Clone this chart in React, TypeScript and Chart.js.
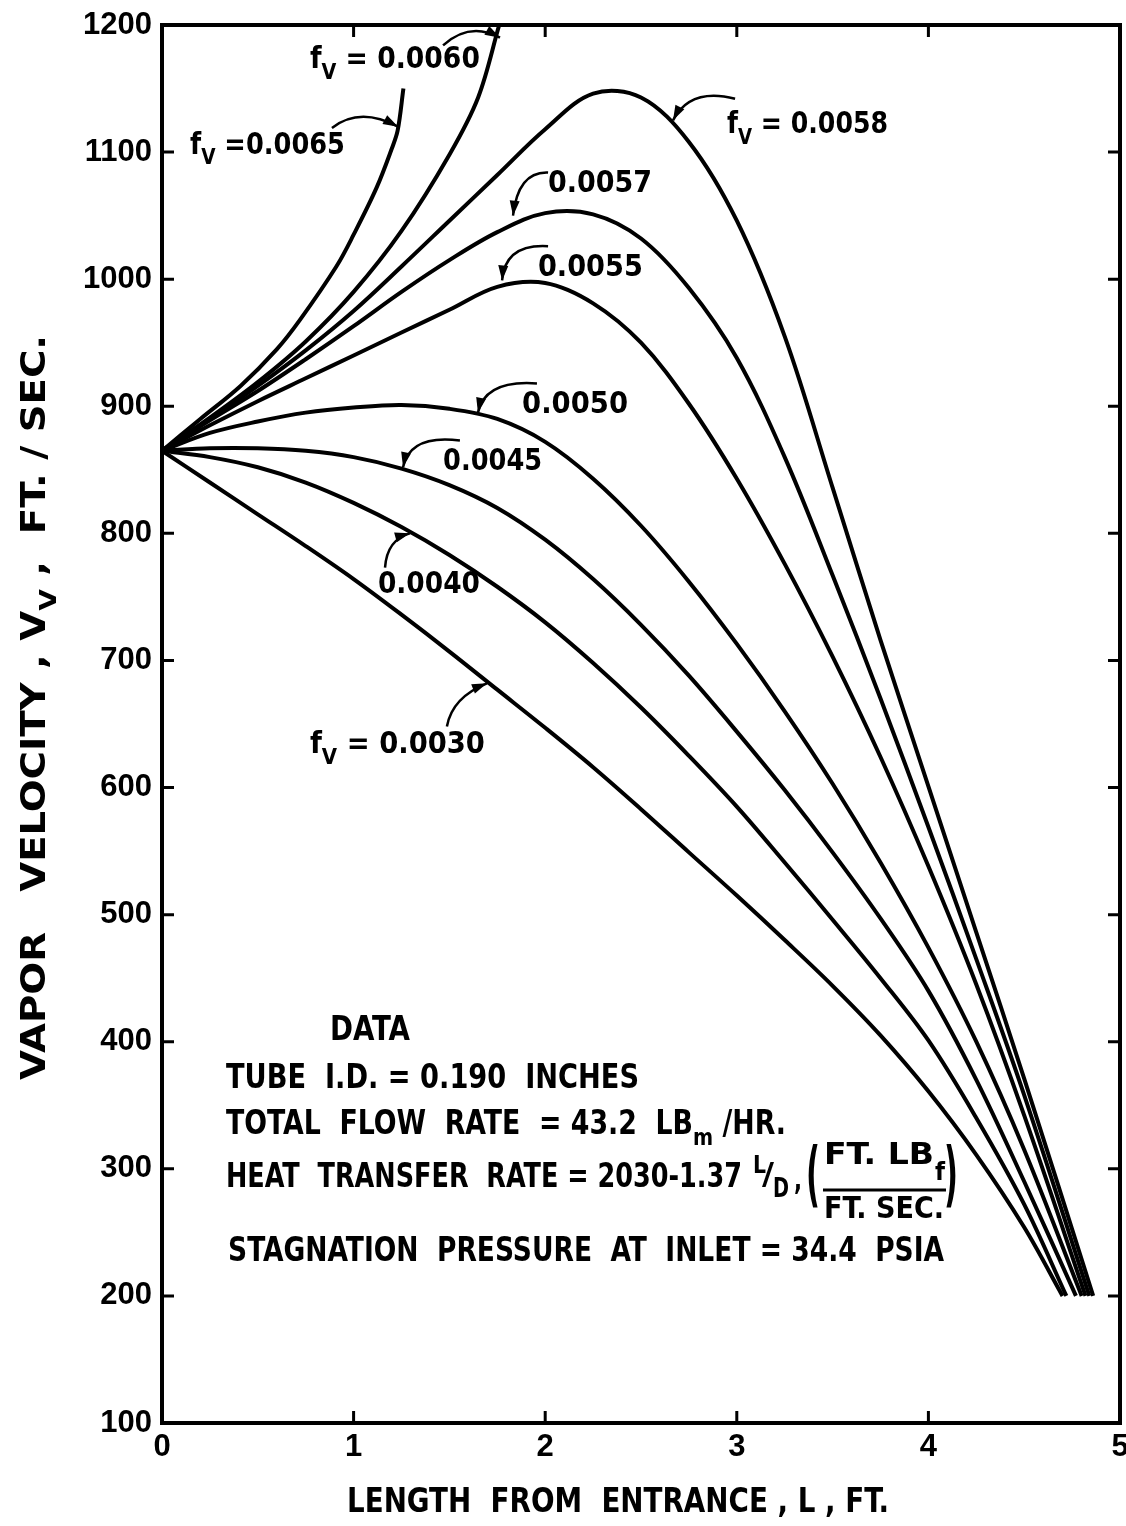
import React, { useEffect, useRef } from "react";
import { Chart, registerables } from "chart.js";

Chart.register(...registerables);

// ---------- data (length L in ft, vapor velocity in ft/sec) ----------
const L_0030 = [0, 0.25, 0.5, 0.75, 1.0, 1.25, 1.5, 1.75, 2.0, 2.25, 2.5, 2.75, 3.0, 3.25, 3.5, 3.75, 4.0, 4.25, 4.5, 4.7];
const V_0030 = [865, 840, 815, 790, 764, 736, 707, 677, 647, 616, 583, 549, 515, 480, 444, 405, 361, 311, 254, 200];

const L_0040 = [0, 0.25, 0.5, 0.75, 1.0, 1.25, 1.5, 1.75, 2.0, 2.25, 2.5, 2.75, 3.0, 3.25, 3.5, 3.75, 4.0, 4.25, 4.5, 4.72];
const V_0040 = [865, 860, 852, 840, 824, 805, 783, 758, 730, 698, 663, 625, 585, 541, 496, 450, 401, 340, 272, 200];

const L_0045 = [0, 0.25, 0.5, 0.75, 1.0, 1.25, 1.5, 1.75, 2.0, 2.25, 2.5, 2.75, 3.0, 3.25, 3.5, 3.75, 4.0, 4.25, 4.5, 4.77];
const V_0045 = [865, 867, 867, 865, 860, 851, 838, 820, 795, 764, 728, 688, 644, 598, 549, 497, 440, 370, 290, 200];

const L_0050 = [0, 0.25, 0.5, 0.75, 1.0, 1.25, 1.5, 1.75, 2.0, 2.25, 2.5, 2.75, 3.0, 3.25, 3.5, 3.75, 4.0, 4.25, 4.5, 4.8];
const V_0050 = [865, 879, 888, 895, 899, 901, 898, 890, 872, 843, 806, 762, 713, 660, 603, 541, 474, 400, 315, 200];

const L_0055 = [0, 0.25, 0.5, 0.75, 1.0, 1.25, 1.5, 1.75, 2.0, 2.25, 2.5, 2.75, 3.0, 3.25, 3.5, 3.75, 4.0, 4.25, 4.5, 4.82];
const V_0055 = [865, 885, 904, 922, 940, 958, 976, 994, 997, 981, 950, 902, 843, 776, 703, 624, 538, 445, 342, 200];

const L_0057 = [0, 0.25, 0.5, 0.75, 1.0, 1.25, 1.5, 1.75, 2.0, 2.25, 2.5, 2.75, 3.0, 3.25, 3.5, 3.75, 4.0, 4.25, 4.5, 4.84];
const V_0057 = [865, 889, 912, 937, 963, 990, 1015, 1037, 1052, 1051, 1032, 993, 938, 860, 767, 670, 569, 465, 358, 200];

const L_0058 = [0, 0.25, 0.5, 0.75, 1.0, 1.25, 1.5, 1.75, 2.0, 2.25, 2.5, 2.75, 3.0, 3.25, 3.5, 3.75, 4.0, 4.25, 4.5, 4.86];
const V_0058 = [865, 890, 916, 944, 975, 1010, 1046, 1082, 1118, 1146, 1143, 1108, 1046, 955, 836, 716, 601, 486, 371, 200];

const L_0060 = [0, 0.25, 0.5, 0.75, 1.0, 1.25, 1.5, 1.65, 1.76];
const V_0060 = [865, 891, 919, 951, 990, 1038, 1098, 1143, 1200];

const L_0065 = [0, 0.2, 0.41, 0.6, 0.72, 0.91, 1.0, 1.12, 1.2, 1.23, 1.26];
const V_0065 = [865, 890, 916, 945, 968, 1010, 1035, 1072, 1103, 1117, 1150];

const FRICTION = ["0.0030", "0.0040", "0.0045", "0.0050", "0.0055", "0.0057", "0.0058", "0.0060", "0.0065"];
const LENGTHS = [L_0030, L_0040, L_0045, L_0050, L_0055, L_0057, L_0058, L_0060, L_0065];
const VELOCITIES = [V_0030, V_0040, V_0045, V_0050, V_0055, V_0057, V_0058, V_0060, V_0065];

const X_MIN = 0, X_MAX = 5, X_STEP = 1;
const Y_MIN = 100, Y_MAX = 1200, Y_STEP = 100;

// ---------- text / annotation layout ----------
const FONT = '"DejaVu Sans Condensed", "DejaVu Sans", sans-serif';
const TICK_FONT = '"Liberation Sans", Arial, sans-serif';

type Seg = { t: string; sub?: boolean; sup?: boolean };

// curve labels: segments, anchor (data units, left / middle), width px
const CURVE_LABELS: { segs: Seg[]; x: number; y: number; w: number; size: number }[] = [
  { segs: [{ t: "f" }, { t: "V", sub: true }, { t: " = 0.0060" }], x: 0.772, y: 1172, w: 170, size: 30 },
  { segs: [{ t: "f" }, { t: "V", sub: true }, { t: " =0.0065" }], x: 0.146, y: 1105, w: 155, size: 30 },
  { segs: [{ t: "f" }, { t: "V", sub: true }, { t: " = 0.0058" }], x: 2.949, y: 1121, w: 161, size: 30 },
  { segs: [{ t: "0.0057" }], x: 2.015, y: 1075, w: 104, size: 30 },
  { segs: [{ t: "0.0055" }], x: 1.962, y: 1009, w: 105, size: 30 },
  { segs: [{ t: "0.0050" }], x: 1.879, y: 901, w: 106, size: 30 },
  { segs: [{ t: "0.0045" }], x: 1.467, y: 856, w: 99, size: 30 },
  { segs: [{ t: "0.0040" }], x: 1.127, y: 759, w: 102, size: 30 },
  { segs: [{ t: "f" }, { t: "V", sub: true }, { t: " = 0.0030" }], x: 0.772, y: 633, w: 175, size: 30 },
];

// curved leader arrows: tail, control, head (data units)
const ARROWS: number[][] = [
  [1.467, 1184, 1.607, 1203, 1.764, 1190],
  [0.887, 1119, 1.033, 1136, 1.232, 1120],
  [2.991, 1142, 2.756, 1151, 2.667, 1125],
  [2.015, 1084, 1.858, 1085, 1.832, 1050],
  [2.015, 1026, 1.79, 1028, 1.775, 999],
  [1.957, 918, 1.686, 921, 1.649, 895],
  [1.555, 873, 1.294, 878, 1.258, 852],
  [1.164, 773, 1.174, 795, 1.294, 800],
  [1.487, 648, 1.514, 671, 1.696, 682],
];

const DATA_LINES: { segs: Seg[]; x: number; y: number; w: number }[] = [
  { segs: [{ t: "DATA" }], x: 0.877, y: 408, w: 80 },
  { segs: [{ t: "TUBE  I.D. = 0.190  INCHES" }], x: 0.334, y: 370, w: 413 },
  { segs: [{ t: "TOTAL  FLOW  RATE  = 43.2  LB" }, { t: "m", sub: true }, { t: " /HR." }], x: 0.334, y: 334.5, w: 560 },
  { segs: [{ t: "STAGNATION  PRESSURE  AT  INLET = 34.4  PSIA" }], x: 0.345, y: 234.5, w: 716 },
];
const HEAT_LINE = { text: "HEAT  TRANSFER  RATE = 2030-1.37", x: 0.334, y: 292.8, w: 516 };

const X_TITLE = "LENGTH  FROM  ENTRANCE , L , FT.";
const Y_TITLE: Seg[] = [{ t: "VAPOR   VELOCITY , V" }, { t: "V", sub: true }, { t: " ,  FT. / SEC." }];

function drawRich(ctx: CanvasRenderingContext2D, segs: Seg[], x: number, y: number, size: number, targetW: number | null, align: "left" | "center" = "left") {
  let w = 0;
  const widths: number[] = [];
  for (const s of segs) {
    const sz = s.sub || s.sup ? size * 0.72 : size;
    ctx.font = `bold ${sz}px ${FONT}`;
    const m = ctx.measureText(s.t).width;
    widths.push(m);
    w += m;
  }
  const sx = targetW ? targetW / w : 1;
  const realW = w * sx;
  ctx.save();
  ctx.translate(align === "center" ? x - realW / 2 : x, y);
  ctx.scale(sx, 1);
  ctx.textBaseline = "middle";
  ctx.textAlign = "left";
  let cx = 0;
  segs.forEach((s, i) => {
    const sz = s.sub || s.sup ? size * 0.72 : size;
    ctx.font = `bold ${sz}px ${FONT}`;
    const dy = s.sub ? size * 0.42 : s.sup ? -size * 0.3 : 0;
    ctx.fillText(s.t, cx, dy);
    cx += widths[i];
  });
  ctx.restore();
}

function drawArrow(ctx: CanvasRenderingContext2D, x0: number, y0: number, cx: number, cy: number, x1: number, y1: number) {
  ctx.save();
  ctx.strokeStyle = "#000";
  ctx.fillStyle = "#000";
  ctx.lineWidth = 2.5;
  ctx.beginPath();
  ctx.moveTo(x0, y0);
  ctx.quadraticCurveTo(cx, cy, x1, y1);
  ctx.stroke();
  const ang = Math.atan2(y1 - cy, x1 - cx);
  const len = 15, half = 5;
  ctx.beginPath();
  ctx.moveTo(x1, y1);
  ctx.lineTo(x1 - len * Math.cos(ang) + half * Math.sin(ang), y1 - len * Math.sin(ang) - half * Math.cos(ang));
  ctx.lineTo(x1 - len * Math.cos(ang) - half * Math.sin(ang), y1 - len * Math.sin(ang) + half * Math.cos(ang));
  ctx.closePath();
  ctx.fill();
  ctx.restore();
}

const decorPlugin = {
  id: "decor",
  afterDraw(chart: any) {
    const ctx: CanvasRenderingContext2D = chart.ctx;
    const xs = chart.scales.x;
    const ys = chart.scales.y;
    const { left, right, top, bottom } = chart.chartArea;
    const px = (v: number) => xs.getPixelForValue(v);
    const py = (v: number) => ys.getPixelForValue(v);
    ctx.save();
    ctx.fillStyle = "#000";
    ctx.strokeStyle = "#000";

    // frame
    ctx.lineWidth = 4;
    ctx.strokeRect(left, top, right - left, bottom - top);

    // inward ticks
    ctx.lineWidth = 3;
    const tl = 12;
    for (let v = Y_MIN + Y_STEP; v < Y_MAX; v += Y_STEP) {
      const y = py(v);
      ctx.beginPath();
      ctx.moveTo(left, y); ctx.lineTo(left + tl, y);
      ctx.moveTo(right, y); ctx.lineTo(right - tl, y);
      ctx.stroke();
    }
    for (let v = X_MIN + X_STEP; v < X_MAX; v += X_STEP) {
      const x = px(v);
      ctx.beginPath();
      ctx.moveTo(x, bottom); ctx.lineTo(x, bottom - tl);
      ctx.moveTo(x, top); ctx.lineTo(x, top + tl);
      ctx.stroke();
    }

    // curve labels and leader arrows
    CURVE_LABELS.forEach((l) => drawRich(ctx, l.segs, px(l.x), py(l.y), l.size, l.w));
    ARROWS.forEach((a) => drawArrow(ctx, px(a[0]), py(a[1]), px(a[2]), py(a[3]), px(a[4]), py(a[5])));

    // data block
    DATA_LINES.forEach((l) => drawRich(ctx, l.segs, px(l.x), py(l.y), 33, l.w));
    const hx = px(HEAT_LINE.x), hy = py(HEAT_LINE.y);
    drawRich(ctx, [{ t: HEAT_LINE.text }], hx, hy, 33, HEAT_LINE.w);
    drawRich(ctx, [{ t: "L" }], hx + 527, hy - 11, 24, 13);
    drawRich(ctx, [{ t: "/" }], hx + 536, hy - 2, 30, 12);
    drawRich(ctx, [{ t: "D" }], hx + 547, hy + 12, 26, 16);
    drawRich(ctx, [{ t: "," }], hx + 568, hy + 4, 30, 8);
    drawRich(ctx, [{ t: "(" }], hx + 580, hy + 1, 72, 14);
    drawRich(ctx, [{ t: "FT. LB" }], hx + 598, hy - 22, 30, 110);
    drawRich(ctx, [{ t: "f" }], hx + 709, hy - 4, 24, 10);
    ctx.lineWidth = 3;
    ctx.beginPath();
    ctx.moveTo(hx + 597, hy + 12);
    ctx.lineTo(hx + 720, hy + 12);
    ctx.stroke();
    drawRich(ctx, [{ t: "FT. SEC." }], hx + 598, hy + 32, 30, 120);
    drawRich(ctx, [{ t: ")" }], hx + 718, hy + 1, 72, 14);

    // axis titles
    drawRich(ctx, [{ t: X_TITLE }], px(2.38), bottom + 80, 33, 542, "center");
    ctx.save();
    ctx.translate(36, py(663));
    ctx.rotate(-Math.PI / 2);
    drawRich(ctx, Y_TITLE, 0, 0, 33, 745, "center");
    ctx.restore();

    ctx.restore();
  },
};

export default function App() {
  const canvasRef = useRef<HTMLCanvasElement | null>(null);

  useEffect(() => {
    const canvas = canvasRef.current;
    if (!canvas) return;
    const datasets = FRICTION.map((f, i) => ({
      label: "fv = " + f,
      data: LENGTHS[i].map((x, j) => ({ x, y: VELOCITIES[i][j] })),
      borderColor: "#000",
      borderWidth: 4,
      pointRadius: 0,
      fill: false,
      tension: 0.35,
    }));
    const chart = new Chart(canvas, {
      type: "line",
      data: { datasets },
      options: {
        responsive: false,
        animation: false,
        devicePixelRatio: 1,
        events: [],
        layout: { padding: { top: 25, right: 6, left: 0, bottom: 0 } },
        plugins: { legend: { display: false }, tooltip: { enabled: false } },
        scales: {
          x: {
            type: "linear",
            min: X_MIN,
            max: X_MAX,
            grid: { display: false, drawTicks: false },
            border: { display: false },
            ticks: {
              stepSize: X_STEP,
              color: "#000",
              padding: 6,
              font: { family: TICK_FONT, weight: "bold", size: 31 },
              callback: (v: any) => String(v),
            },
            afterFit: (s: any) => {
              s.height = 103;
              s.paddingLeft = 0;
              s.paddingRight = 0;
            },
          },
          y: {
            type: "linear",
            min: Y_MIN,
            max: Y_MAX,
            grid: { display: false, drawTicks: false },
            border: { display: false },
            ticks: {
              stepSize: Y_STEP,
              color: "#000",
              padding: 10,
              font: { family: TICK_FONT, weight: "bold", size: 31 },
              callback: (v: any) => String(v),
            },
            afterFit: (s: any) => {
              s.width = 162;
              s.paddingTop = 0;
              s.paddingBottom = 0;
            },
          },
        },
      },
      plugins: [decorPlugin],
    });
    return () => chart.destroy();
  }, []);

  return (
    <div style={{ position: "absolute", left: 0, top: 0, width: 1126, height: 1526, background: "#fff" }}>
      <canvas ref={canvasRef} width={1126} height={1526} style={{ display: "block", width: 1126, height: 1526 }} />
    </div>
  );
}
